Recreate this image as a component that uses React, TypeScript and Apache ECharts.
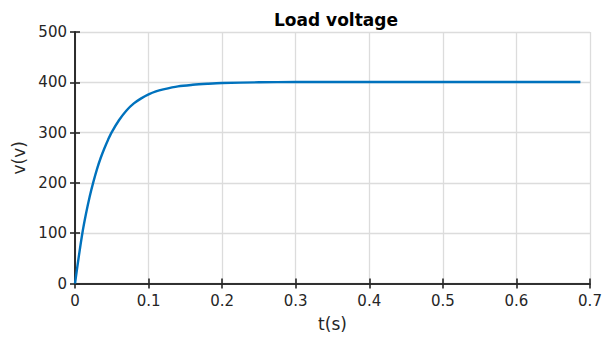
import React, { useEffect, useRef } from "react";
import * as echarts from "echarts";

const timeS = [0, 0.005, 0.01, 0.015, 0.02, 0.025, 0.03, 0.035, 0.04, 0.045, 0.05, 0.06, 0.07, 0.08, 0.09, 0.1, 0.11, 0.12, 0.14, 0.16, 0.18, 0.2, 0.25, 0.3, 0.4, 0.5, 0.6, 0.687];
const voltage = [0, 52, 100, 139, 173, 202, 228, 250, 269, 286, 301, 325, 344, 358, 368, 376, 382, 386, 392, 395, 397, 398.5, 400, 400.5, 400.5, 400.5, 400.5, 400.5];
const xTicks = { min: 0, max: 0.7, interval: 0.1 };
const yTicks = { min: 0, max: 500, interval: 100 };
const titleText = "Load voltage";
const xName = "t(s)";
const yName = "v(v)";

const FONT = "'DejaVu Sans', 'Liberation Sans', Arial, sans-serif";
const INK = "#262626";

export default function App() {
  const ref = useRef<HTMLDivElement>(null);
  useEffect(() => {
    if (!ref.current) return;
    const chart = echarts.init(ref.current, null, { renderer: "svg" });
    const data = timeS.map((t, i) => [t, voltage[i]]);
    const axisCommon = {
      axisLine: { show: true, lineStyle: { color: INK, width: 1.6 } },
      axisTick: { show: true, inside: true, length: 5, lineStyle: { color: INK, width: 1.6 } },
    };
    chart.setOption({
      animation: false,
      backgroundColor: "#ffffff",
      title: {
        text: titleText,
        left: 331,
        top: 6,
        textAlign: "center",
        textStyle: { fontFamily: FONT, fontSize: 17, fontWeight: "bold", color: "#000" },
      },
      grid: { left: 75, right: 24, top: 32, bottom: 59.5 },
      xAxis: [
        {
          type: "value",
          ...xTicks,
          position: "bottom",
          ...axisCommon,
          splitLine: { show: true, lineStyle: { color: "#dcdcdc", width: 1.3 } },
          axisLabel: {
            color: INK,
            fontFamily: FONT,
            fontSize: 15,
            margin: 10,
            formatter: (v: number) => (v === 0 ? "0" : v.toFixed(1)),
          },
          name: xName,
          nameLocation: "middle",
          nameGap: 32,
          nameTextStyle: { color: INK, fontFamily: FONT, fontSize: 17 },
        },
        {
          type: "value",
          ...xTicks,
          position: "top",
          ...axisCommon,
          splitLine: { show: false },
          axisLabel: { show: false },
        },
      ],
      yAxis: [
        {
          type: "value",
          ...yTicks,
          position: "left",
          ...axisCommon,
          splitLine: { show: true, lineStyle: { color: "#dcdcdc", width: 1.3 } },
          axisLabel: { color: INK, fontFamily: FONT, fontSize: 15, margin: 8 },
          name: yName,
          nameLocation: "middle",
          nameGap: 41,
          nameTextStyle: { color: INK, fontFamily: FONT, fontSize: 17 },
        },
        {
          type: "value",
          ...yTicks,
          position: "right",
          ...axisCommon,
          splitLine: { show: false },
          axisLabel: { show: false },
        },
      ],
      series: [
        {
          type: "line",
          data,
          xAxisIndex: 0,
          yAxisIndex: 0,
          showSymbol: false,
          smooth: 0.3,
          lineStyle: { color: "#0072BD", width: 2.4 },
        },
      ],
    });
    return () => chart.dispose();
  }, []);
  return (
    <div
      ref={ref}
      style={{ position: "fixed", left: 0, top: 0, width: 614, height: 343 }}
    />
  );
}
